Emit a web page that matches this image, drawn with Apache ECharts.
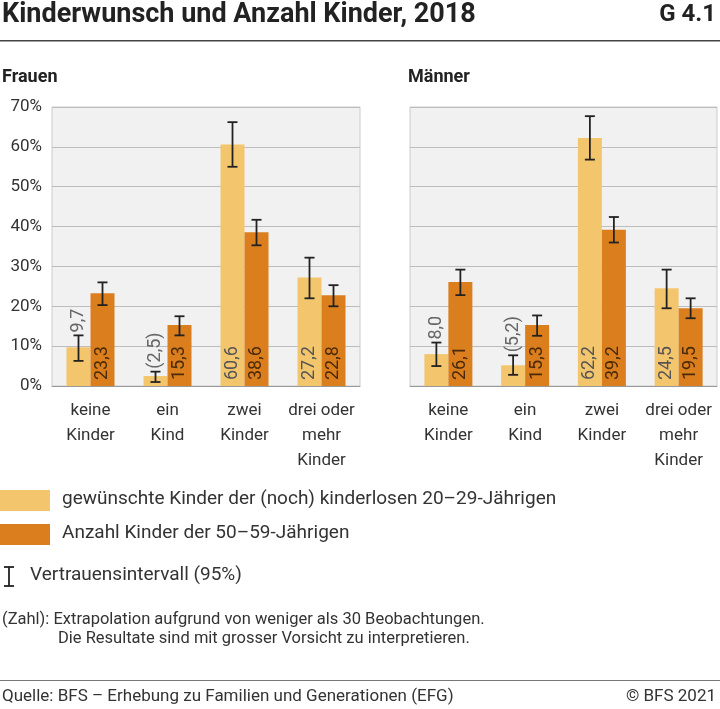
<!DOCTYPE html>
<html><head><meta charset="utf-8">
<script src="https://cdn.jsdelivr.net/npm/echarts@6/dist/echarts.min.js"></script>
<style>body{margin:0;background:#fff}#c{width:720px;height:709px}</style>
</head><body><div id="c"></div>
<script>
var categories = ['keine\nKinder', 'ein\nKind', 'zwei\nKinder', 'drei oder\nmehr\nKinder'];
var frauenWunsch = [9.7, 2.5, 60.6, 27.2];
var frauenAnzahl = [23.3, 15.3, 38.6, 22.8];
var maennerWunsch = [8.0, 5.2, 62.2, 24.5];
var maennerAnzahl = [26.1, 15.3, 39.2, 19.5];
var frauenWunschLabels = ['9,7', '(2,5)', '60,6', '27,2'];
var frauenAnzahlLabels = ['23,3', '15,3', '38,6', '22,8'];
var maennerWunschLabels = ['8,0', '(5,2)', '62,2', '24,5'];
var maennerAnzahlLabels = ['26,1', '15,3', '39,2', '19,5'];
// confidence intervals [low, high]
var frauenWunschCI = [[6.3, 12.7], [1.0, 3.6], [55.0, 66.2], [22.0, 32.2]];
var frauenAnzahlCI = [[20.3, 26.0], [12.7, 17.5], [35.3, 41.7], [20.0, 25.3]];
var maennerWunschCI = [[5.0, 10.9], [2.8, 7.7], [56.8, 67.7], [19.5, 29.2]];
var maennerAnzahlCI = [[22.8, 29.2], [12.6, 17.7], [36.0, 42.4], [17.0, 22.0]];

var light = '#F3C66E', dark = '#DB7F1E';
var font = 'Roboto';
var pxPerUnit = 279 / 70;

function barSeries(idx, data, labels, ci, color, labelColor) {
  return {
    type: 'bar', xAxisIndex: idx, yAxisIndex: idx, barWidth: 24, barGap: '0%',
    itemStyle: {color: color}, silent: true,
    label: {show: true, position: 'insideBottom', rotate: 90, align: 'left', verticalAlign: 'middle',
      distance: 6, color: labelColor, fontFamily: font, fontSize: 18,
      formatter: function (p) { return labels[p.dataIndex]; }},
    data: data.map(function (v, i) {
      if (v >= 12) return v;
      // small bars: label sits above the error bar
      return {value: v, label: {position: 'top', distance: (ci[i][1] - v) * pxPerUnit + 3, color: '#666'}};
    })
  };
}
function errSeries(idx, ci, offset) {
  return {
    type: 'custom', xAxisIndex: idx, yAxisIndex: idx, z: 10, silent: true,
    data: ci.map(function (d, i) { return [i, d[0], d[1]]; }),
    renderItem: function (params, api) {
      var lo = api.coord([api.value(0), api.value(1)]);
      var hi = api.coord([api.value(0), api.value(2)]);
      var x = lo[0] + offset, w = 5;
      var st = {stroke: '#222', lineWidth: 1.8};
      return {type: 'group', children: [
        {type: 'line', shape: {x1: x, y1: lo[1], x2: x, y2: hi[1]}, style: st},
        {type: 'line', shape: {x1: x - w, y1: lo[1], x2: x + w, y2: lo[1]}, style: st},
        {type: 'line', shape: {x1: x - w, y1: hi[1], x2: x + w, y2: hi[1]}, style: st}
      ]};
    }
  };
}
function xAx(idx) {
  return {type: 'category', gridIndex: idx, data: categories,
    axisLine: {lineStyle: {color: '#999'}}, axisTick: {show: false},
    axisLabel: {color: '#333', fontFamily: font, fontSize: 17, lineHeight: 25, margin: 12, interval: 0}};
}
function yAx(idx, showLabels) {
  return {type: 'value', gridIndex: idx, min: 0, max: 70, interval: 10,
    axisLabel: {show: showLabels, color: '#333', fontFamily: font, fontSize: 17, margin: 10,
      formatter: function (v) { return v + '%'; }},
    splitLine: {lineStyle: {color: '#bdbdbd', width: 1.2}}, axisLine: {show: false}, axisTick: {show: false}};
}

var chart = echarts.init(document.getElementById('c'));
chart.setOption({
  animation: false,
  grid: [
    {left: 52, top: 107, width: 308, height: 279, backgroundColor: '#f1f1f1', show: true, borderColor: '#ccc'},
    {left: 410, top: 107, width: 307, height: 279, backgroundColor: '#f1f1f1', show: true, borderColor: '#ccc'}
  ],
  xAxis: [xAx(0), xAx(1)],
  yAxis: [yAx(0, true), yAx(1, false)],
  series: [
    barSeries(0, frauenWunsch, frauenWunschLabels, frauenWunschCI, light, '#555'),
    barSeries(0, frauenAnzahl, frauenAnzahlLabels, frauenAnzahlCI, dark, '#4a2a08'),
    barSeries(1, maennerWunsch, maennerWunschLabels, maennerWunschCI, light, '#555'),
    barSeries(1, maennerAnzahl, maennerAnzahlLabels, maennerAnzahlCI, dark, '#4a2a08'),
    errSeries(0, frauenWunschCI, -12), errSeries(0, frauenAnzahlCI, 12),
    errSeries(1, maennerWunschCI, -12), errSeries(1, maennerAnzahlCI, 12)
  ],
  graphic: [
    {type: 'text', left: 2, top: 2, style: {text: 'Kinderwunsch und Anzahl Kinder, 2018', font: 'bold 27px Roboto', fill: '#222'}},
    {type: 'text', right: 4, top: 3, style: {text: 'G 4.1', font: 'bold 24px Roboto', fill: '#222'}},
    {type: 'rect', shape: {x: 0, y: 40, width: 720, height: 1.5}, style: {fill: '#444'}},
    {type: 'text', left: 2, top: 68, style: {text: 'Frauen', font: 'bold 18px Roboto', fill: '#222'}},
    {type: 'text', left: 408, top: 68, style: {text: 'Männer', font: 'bold 18px Roboto', fill: '#222'}},
    {type: 'rect', shape: {x: 0, y: 490, width: 50, height: 21}, style: {fill: light}},
    {type: 'text', left: 62, top: 490, style: {text: 'gewünschte Kinder der (noch) kinderlosen 20–29-Jährigen', font: '19px Roboto', fill: '#333'}},
    {type: 'rect', shape: {x: 0, y: 524, width: 50, height: 21}, style: {fill: dark}},
    {type: 'text', left: 62, top: 524, style: {text: 'Anzahl Kinder der 50–59-Jährigen', font: '19px Roboto', fill: '#333'}},
    {type: 'polyline', shape: {points: [[4, 567], [14, 567]]}, style: {stroke: '#222', lineWidth: 1.8}},
    {type: 'polyline', shape: {points: [[9, 567], [9, 586]]}, style: {stroke: '#222', lineWidth: 1.8}},
    {type: 'polyline', shape: {points: [[4, 586], [14, 586]]}, style: {stroke: '#222', lineWidth: 1.8}},
    {type: 'text', left: 30, top: 566, style: {text: 'Vertrauensintervall (95%)', font: '19px Roboto', fill: '#333'}},
    {type: 'text', left: 2, top: 611, style: {text: '(Zahl): Extrapolation aufgrund von weniger als 30 Beobachtungen.', font: '16.5px Roboto', fill: '#333'}},
    {type: 'text', left: 58, top: 630, style: {text: 'Die Resultate sind mit grosser Vorsicht zu interpretieren.', font: '16.5px Roboto', fill: '#333'}},
    {type: 'rect', shape: {x: 0, y: 680, width: 720, height: 1}, style: {fill: '#777'}},
    {type: 'text', left: 2, top: 688, style: {text: 'Quelle: BFS – Erhebung zu Familien und Generationen (EFG)', font: '17px Roboto', fill: '#333'}},
    {type: 'text', right: 4, top: 688, style: {text: '© BFS 2021', font: '17px Roboto', fill: '#333'}}
  ]
});
</script>
</body></html>
